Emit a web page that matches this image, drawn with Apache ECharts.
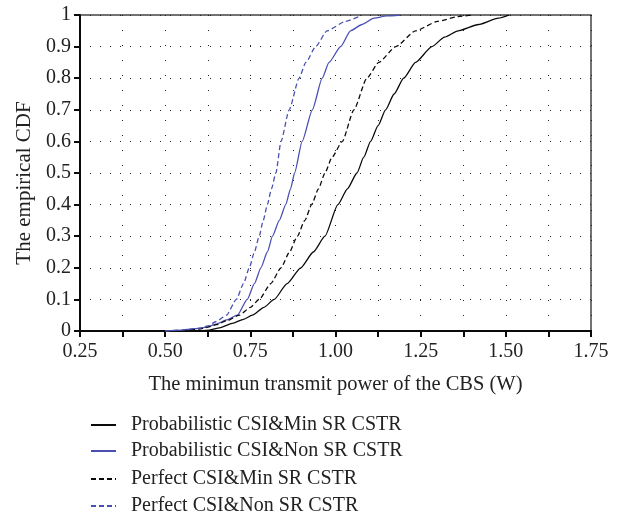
<!DOCTYPE html>
<html lang="en">
<head>
    <meta charset="UTF-8">
    <title>Empirical CDF</title>
    <style>
        body { margin: 0; padding: 0; background: #fff; }
        #main { width: 632px; height: 516px; }
    </style>
    <script src="https://cdn.jsdelivr.net/npm/echarts@6/dist/echarts.min.js"></script>
</head>
<body>
<div id="main"></div>
<script>
	var seriesNames = [
		'Probabilistic CSI&Min SR CSTR',
		'Probabilistic CSI&Non SR CSTR',
		'Perfect CSI&Min SR CSTR',
		'Perfect CSI&Non SR CSTR'
	];

	// Probabilistic CSI & Min SR CSTR (black solid)
	var probMinX = [0.60, 0.63, 0.66, 0.70, 0.73, 0.756, 0.79, 0.82, 0.858, 0.898, 0.935, 0.969, 1.007, 1.035, 1.063, 1.083, 1.103, 1.125, 1.147, 1.172, 1.20, 1.235, 1.283, 1.32, 1.36, 1.42, 1.478, 1.51];
	var probMinY = [0, 0.003, 0.01, 0.025, 0.037, 0.05, 0.075, 0.1, 0.15, 0.2, 0.25, 0.3, 0.4, 0.45, 0.5, 0.55, 0.6, 0.65, 0.7, 0.75, 0.8, 0.85, 0.9, 0.93, 0.95, 0.97, 0.99, 1];

	// Probabilistic CSI & Non SR CSTR (blue solid)
	var probNonX = [0.50, 0.55, 0.60, 0.625, 0.65, 0.68, 0.712, 0.741, 0.762, 0.781, 0.80, 0.815, 0.835, 0.854, 0.868, 0.88, 0.902, 0.932, 0.961, 0.981, 1.015, 1.044, 1.078, 1.113, 1.15, 1.19];
	var probNonY = [0, 0.003, 0.008, 0.013, 0.022, 0.035, 0.05, 0.1, 0.15, 0.2, 0.25, 0.3, 0.35, 0.4, 0.45, 0.5, 0.6, 0.7, 0.8, 0.85, 0.9, 0.95, 0.97, 0.99, 0.997, 1];

	// Perfect CSI & Min SR CSTR (black dashed)
	var perfMinX = [0.55, 0.60, 0.625, 0.65, 0.68, 0.718, 0.75, 0.776, 0.81, 0.84, 0.865, 0.888, 0.91, 0.93, 0.95, 0.969, 0.99, 1.02, 1.054, 1.092, 1.127, 1.177, 1.235, 1.30, 1.36, 1.40];
	var perfMinY = [0, 0.006, 0.012, 0.02, 0.032, 0.05, 0.075, 0.1, 0.15, 0.2, 0.25, 0.3, 0.35, 0.4, 0.45, 0.5, 0.55, 0.6, 0.7, 0.8, 0.85, 0.9, 0.95, 0.98, 0.995, 1];

	// Perfect CSI & Non SR CSTR (blue dashed)
	var perfNonX = [0.50, 0.55, 0.60, 0.625, 0.65, 0.68, 0.709, 0.73, 0.747, 0.762, 0.776, 0.788, 0.80, 0.812, 0.825, 0.84, 0.864, 0.893, 0.913, 0.942, 0.975, 1.03, 1.078];
	var perfNonY = [0, 0.003, 0.009, 0.016, 0.03, 0.05, 0.1, 0.15, 0.2, 0.25, 0.3, 0.35, 0.4, 0.45, 0.5, 0.6, 0.7, 0.8, 0.85, 0.9, 0.95, 0.98, 1];

	var zip = function (xs, ys) {
		var res = [];
		for (var i = 0; i < xs.length; i++) {
			res.push([xs[i], ys[i]]);
		}
		return res;
	};

	var font = '"Liberation Serif", "DejaVu Serif", serif';
	var black = '#0a0a0a';
	var blue = '#4a50b2';

	var makeLine = function (name, data, color, dashed) {
		return {
			name: name,
			type: 'line',
			data: data,
			symbol: 'none',
			smooth: 0.2,
			smoothMonotone: 'x',
			animation: false,
			lineStyle: {
				color: color,
				width: 1.3,
				type: dashed ? [5, 3] : 'solid'
			},
			// opacity 0 hides the little symbol the legend adds to line icons
			itemStyle: { color: color, opacity: 0 }
		};
	};

	// one legend per row so the rows sit where they should
	var legendRows = [415, 441, 469, 496];
	var legends = seriesNames.map(function (name, i) {
		return {
			orient: 'vertical',
			left: 90,
			top: legendRows[i],
			padding: 0,
			itemWidth: 25,
			itemHeight: 14,
			textStyle: { fontFamily: font, fontSize: 20, color: '#222', padding: [0, 0, 0, 10] },
			data: [name]
		};
	});

	var chart = echarts.init(document.getElementById('main'));
	chart.setOption({
		backgroundColor: '#fff',
		animation: false,
		grid: {
			left: 80,
			right: 41,
			top: 15,
			bottom: 185,
			show: true,
			borderColor: '#444',
			borderWidth: 1.5
		},
		legend: legends,
		xAxis: {
			type: 'value',
			min: 0.25,
			max: 1.75,
			interval: 0.125,
			name: 'The minimun transmit power of the CBS (W)',
			nameLocation: 'middle',
			nameGap: 43,
			nameTextStyle: { fontFamily: font, fontSize: 20.5, color: '#222' },
			axisLine: { show: true, lineStyle: { color: black, width: 2 } },
			axisTick: { show: true, inside: false, length: 6, lineStyle: { color: black, width: 2 } },
			axisLabel: {
				fontFamily: font,
				fontSize: 20,
				color: '#222',
				margin: 11,
				formatter: function (v) {
					var k = v / 0.25;
					return Math.abs(k - Math.round(k)) < 1e-6 ? v.toFixed(2) : '';
				}
			},
			splitLine: { show: true, lineStyle: { color: '#222', width: 1, type: [1, 14] } }
		},
		yAxis: {
			type: 'value',
			min: 0,
			max: 1,
			interval: 0.1,
			name: 'The empirical CDF',
			nameLocation: 'middle',
			nameGap: 44,
			nameTextStyle: { fontFamily: font, fontSize: 21, color: '#222', padding: [0, 20, 0, 0] },
			axisLine: { show: true, lineStyle: { color: black, width: 2 } },
			axisTick: { show: true, inside: false, length: 6, lineStyle: { color: black, width: 2 } },
			axisLabel: {
				fontFamily: font,
				fontSize: 20,
				color: '#222',
				margin: 9,
				formatter: function (v) {
					if (v === 0) return '0';
					if (Math.abs(v - 1) < 1e-9) return '1';
					return v.toFixed(1);
				}
			},
			splitLine: { show: true, lineStyle: { color: '#222', width: 1, type: [1, 9] } }
		},
		series: [
			makeLine(seriesNames[0], zip(probMinX, probMinY), black, false),
			makeLine(seriesNames[1], zip(probNonX, probNonY), blue, false),
			makeLine(seriesNames[2], zip(perfMinX, perfMinY), black, true),
			makeLine(seriesNames[3], zip(perfNonX, perfNonY), blue, true)
		]
	});
	window.onresize = chart.resize;
</script>
</body>
</html>
